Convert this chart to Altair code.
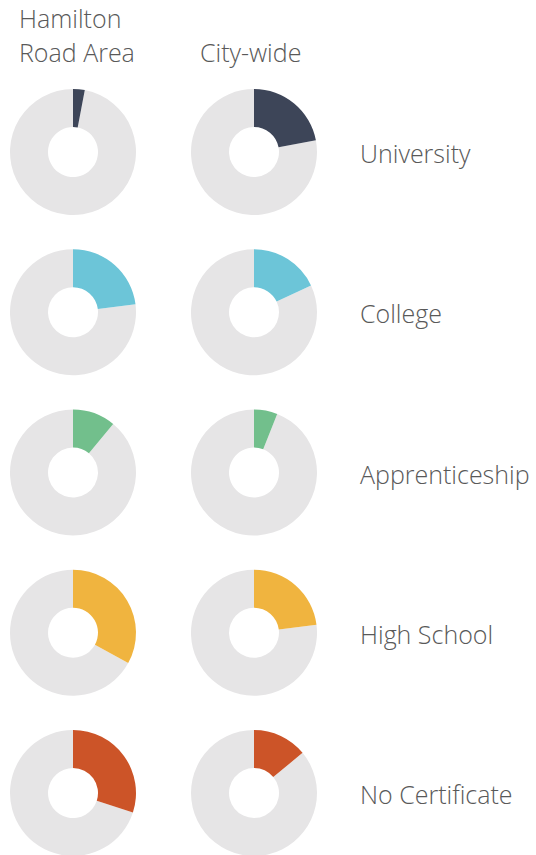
import altair as alt
import pandas as pd

categories = ["University", "College", "Apprenticeship", "High School", "No Certificate"]
areas = ["Hamilton Road Area", "City-wide"]
header_labels = ["Hamilton\nRoad Area", "\nCity-wide"]
hamilton_share = [3, 23, 11, 33, 30]
citywide_share = [22, 18, 6, 23, 14]
colors = ["#3D4558", "#6CC5D8", "#72BF8C", "#F0B43F", "#CC5428"]
rest_color = "#E6E5E6"

rows = []
for cat, h, c in zip(categories, hamilton_share, citywide_share):
    for area, v in zip(areas, [h, c]):
        rows.append({"category": cat, "area": area, "share": v})
df = pd.DataFrame(rows)
hdr = pd.DataFrame({"area": areas, "label": header_labels})
lbl = pd.DataFrame({"category": categories})

FONT = "Open Sans"
TXT = "#595959"

xs = alt.Scale(type="point", domain=areas, range=[73, 254], padding=0)
ys = alt.Scale(type="point", domain=categories, range=[152, 793], padding=0)
ts = alt.Scale(domain=[0, 100], range=[0, 6.283185307179586])
cs = alt.Scale(domain=categories + ["rest"], range=colors + [rest_color])

base = alt.Chart(df).encode(
    x=alt.X("area:N", scale=xs, axis=None),
    y=alt.Y("category:N", scale=ys, axis=None),
)

rest = base.transform_calculate(full="100", key="'rest'").mark_arc(
    outerRadius=63, innerRadius=25
).encode(
    theta=alt.Theta("share:Q", scale=ts),
    theta2="full:Q",
    color=alt.Color("key:N", scale=cs, legend=None),
)

part = base.transform_calculate(zero="0").mark_arc(
    outerRadius=63, innerRadius=25
).encode(
    theta=alt.Theta("zero:Q", scale=ts),
    theta2="share:Q",
    color=alt.Color("category:N", scale=cs, legend=None),
)

labels = alt.Chart(lbl).mark_text(
    align="left", baseline="middle", fontSize=25, font=FONT, fontWeight=300, color=TXT, dy=3
).encode(
    x=alt.value(360),
    y=alt.Y("category:N", scale=ys, axis=None),
    text="category:N",
)

headers = alt.Chart(hdr).mark_text(
    align="left", baseline="alphabetic", fontSize=25, font=FONT, fontWeight=300,
    color=TXT, lineBreak="\n", lineHeight=34, dx=-54
).encode(
    x=alt.X("area:N", scale=xs, axis=None),
    y=alt.value(28),
    text="label:N",
)

chart = alt.layer(rest, part, labels, headers).properties(
    width=536, height=855, autosize="none", padding=0
).configure_view(stroke=None)

chart.save("out.html", embed_options={"renderer": "svg", "actions": False})
